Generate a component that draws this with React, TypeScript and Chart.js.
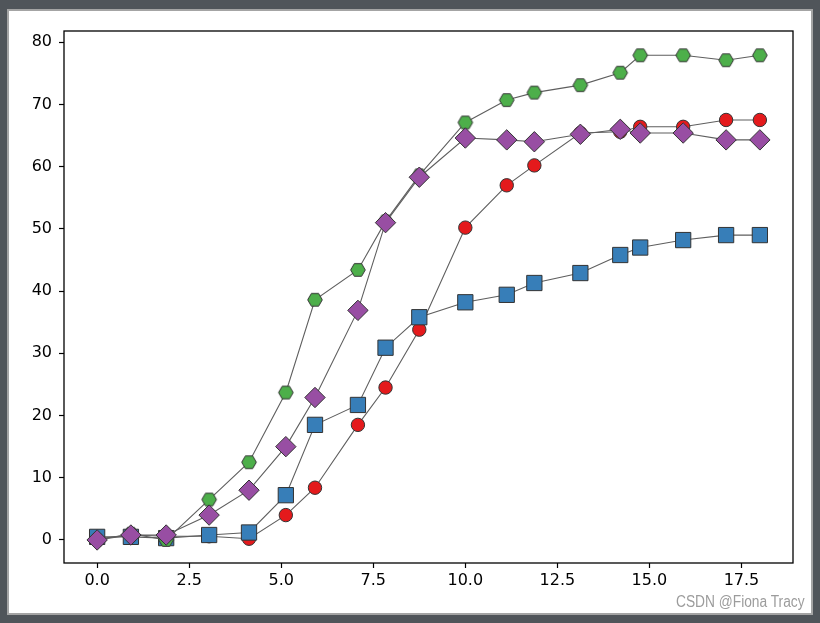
import React, { useEffect, useRef } from "react";
import { Chart, registerables } from "chart.js";

Chart.register(...registerables);

// x positions (days)
const xValues = [0, 0.917, 1.875, 3.042, 4.125, 5.125, 5.917, 7.083, 7.833, 8.75, 10, 11.125, 11.875, 13.125, 14.208, 14.75, 15.917, 17.083, 18];

const redValues = [0.2, 0.8, 0.6, 0.6, 0.2, 4.0, 8.4, 18.5, 24.5, 33.8, 50.2, 57.0, 60.2, 65.4, 65.6, 66.4, 66.4, 67.5, 67.5];
const blueValues = [0.5, 0.5, 0.3, 0.8, 1.2, 7.2, 18.5, 21.7, 30.9, 35.8, 38.2, 39.4, 41.3, 42.9, 45.8, 47.0, 48.2, 49.0, 49.0];
const greenValues = [0, 1.0, 0, 6.5, 12.5, 23.7, 38.6, 43.4, 51.2, 58.6, 67.1, 70.7, 71.9, 73.1, 75.1, 77.9, 77.9, 77.1, 77.9];
const purpleValues = [0, 0.8, 0.8, 4.0, 8.0, 15.0, 22.9, 36.9, 51.0, 58.3, 64.6, 64.3, 64.0, 65.2, 66.0, 65.4, 65.4, 64.3, 64.3];

const xTicks = [0, 2.5, 5, 7.5, 10, 12.5, 15, 17.5];
const yTicks = [0, 10, 20, 30, 40, 50, 60, 70, 80];
const xLimits = [-0.9, 18.9];
const yLimits = [-3.7, 81.8];

const RED = "#e41a1c";
const BLUE = "#377eb8";
const GREEN = "#4daf4a";
const PURPLE = "#984ea3";
const EDGE = "#333333";
const LINE = "#5e5e5e";

function makeHexagon(fill: string, stroke: string): HTMLCanvasElement {
  const c = document.createElement("canvas");
  c.width = 18;
  c.height = 18;
  const ctx = c.getContext("2d")!;
  ctx.beginPath();
  for (let i = 0; i < 6; i++) {
    const a = (i * Math.PI) / 3;
    const px = 9 + 7.3 * Math.cos(a);
    const py = 9 + 7.3 * Math.sin(a);
    if (i === 0) ctx.moveTo(px, py);
    else ctx.lineTo(px, py);
  }
  ctx.closePath();
  ctx.fillStyle = fill;
  ctx.fill();
  ctx.lineWidth = 1;
  ctx.strokeStyle = stroke;
  ctx.stroke();
  return c;
}

function pts(ys: number[]) {
  return xValues.map((x, i) => ({ x, y: ys[i] }));
}

const framePlugin = {
  id: "frame",
  afterDraw(chart: any) {
    const { ctx, chartArea } = chart;
    ctx.save();
    ctx.strokeStyle = "#000";
    ctx.lineWidth = 1.3;
    ctx.strokeRect(chartArea.left, chartArea.top, chartArea.right - chartArea.left, chartArea.bottom - chartArea.top);
    ctx.restore();
  },
};

export default function App() {
  const ref = useRef<HTMLCanvasElement | null>(null);

  useEffect(() => {
    if (!ref.current) return;
    const hex = makeHexagon(GREEN, EDGE);
    const common = {
      showLine: true,
      borderColor: LINE,
      borderWidth: 1.1,
      pointBorderColor: EDGE,
      pointBorderWidth: 1,
      tension: 0,
    };
    const tickFont = { family: "'DejaVu Sans', sans-serif", size: 16 };
    const chart = new Chart(ref.current, {
      type: "scatter",
      data: {
        datasets: [
          { ...common, label: "purple", data: pts(purpleValues), pointStyle: "rectRot", pointRadius: 10.2, backgroundColor: PURPLE, pointBackgroundColor: PURPLE },
          { ...common, label: "green", data: pts(greenValues), pointStyle: hex as any, pointRadius: 7, backgroundColor: GREEN, pointBackgroundColor: GREEN },
          { ...common, label: "blue", data: pts(blueValues), pointStyle: "rect", pointRadius: 10.8, backgroundColor: BLUE, pointBackgroundColor: BLUE },
          { ...common, label: "red", data: pts(redValues), pointStyle: "circle", pointRadius: 6.7, backgroundColor: RED, pointBackgroundColor: RED },
        ],
      },
      options: {
        animation: false,
        responsive: false,
        events: [],
        layout: { padding: { left: 0, top: 31, right: 27, bottom: 0 } },
        plugins: { legend: { display: false }, tooltip: { enabled: false }, title: { display: false } },
        scales: {
          x: {
            type: "linear",
            min: xLimits[0],
            max: xLimits[1],
            afterBuildTicks: (axis: any) => {
              axis.ticks = xTicks.map((v) => ({ value: v }));
            },
            afterFit: (axis: any) => {
              axis.height = 60;
            },
            border: { display: false },
            grid: { drawOnChartArea: false, drawTicks: true, tickLength: 5, color: "#000", tickWidth: 1.2 },
            ticks: { color: "#000", font: tickFont, padding: 3, maxRotation: 0, callback: (v: any) => Number(v).toFixed(1) },
          },
          y: {
            type: "linear",
            min: yLimits[0],
            max: yLimits[1],
            afterBuildTicks: (axis: any) => {
              axis.ticks = yTicks.map((v) => ({ value: v }));
            },
            afterFit: (axis: any) => {
              axis.width = 64;
            },
            border: { display: false },
            grid: { drawOnChartArea: false, drawTicks: true, tickLength: 5, color: "#000", tickWidth: 1.2 },
            ticks: { color: "#000", font: tickFont, padding: 7, callback: (v: any) => String(v) },
          },
        },
      },
      plugins: [framePlugin],
    } as any);
    return () => chart.destroy();
  }, []);

  return (
    <div style={{ position: "absolute", left: 0, top: 0, width: 820, height: 623, background: "#50555a", overflow: "hidden" }}>
      <div
        style={{
          position: "absolute",
          left: 7,
          top: 9,
          width: 806,
          height: 606,
          boxSizing: "border-box",
          border: "2px solid #a4a4a4",
          background: "#ffffff",
        }}
      />
      <canvas ref={ref} width={820} height={623} style={{ position: "absolute", left: 0, top: 0, width: 820, height: 623 }} />
      <div
        style={{
          position: "absolute",
          right: 15,
          top: 593,
          fontFamily: "'Liberation Sans', Arial, sans-serif",
          fontSize: 16,
          color: "#9c9c9c",
          whiteSpace: "nowrap",
          transform: "scaleX(0.86)",
          transformOrigin: "right top",
          lineHeight: "18px",
        }}
      >
        CSDN @Fiona Tracy
      </div>
    </div>
  );
}
